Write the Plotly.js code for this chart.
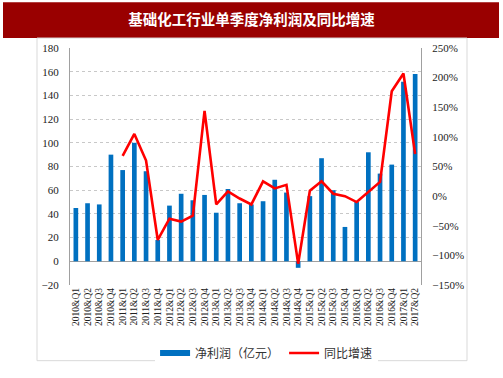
<!DOCTYPE html>
<html>
<head>
<meta charset="utf-8">
<script src="https://cdn.plot.ly/plotly-3.0.1.min.js"></script>
<style>html,body{margin:0;padding:0;background:#fff;}#chart{width:503px;height:378px;}</style>
</head>
<body>
<div id="chart"></div>
<script>
const quarters = ["2010&Q1","2010&Q2","2010&Q3","2010&Q4","2011&Q1","2011&Q2","2011&Q3","2011&Q4","2012&Q1","2012&Q2","2012&Q3","2012&Q4","2013&Q1","2013&Q2","2013&Q3","2013&Q4","2014&Q1","2014&Q2","2014&Q3","2014&Q4","2015&Q1","2015&Q2","2015&Q3","2015&Q4","2016&Q1","2016&Q2","2016&Q3","2016&Q4","2017&Q1","2017&Q2"];
const netProfit = [45, 49, 48, 90, 77, 100, 76, 18, 47, 57, 51.5, 56, 41, 61, 49, 48, 50.7, 68.8, 58, -5.5, 55, 87, 60, 29, 50, 92, 74, 81.6, 151.6, 158];
const yoyGrowth = [null, null, null, null, 68, 105, 60, -74, -38, -43, -33, 144, -14, 8, -4, -14, 25, 13, 19, -114, 9, 25, 4, 0, -10, 7, 24, 177, 207, 71];
const titleText = "基础化工行业单季度净利润及同比增速";
const seriesNames = ["净利润（亿元）", "同比增速"];

const W = 503, H = 378, L = 70, R = 421, T = 48, B = 286;
const px = x => (x - L) / (R - L);
const py = y => (B - y) / (B - T);

const traces = [
  {type: "bar", x: quarters, y: netProfit, name: seriesNames[0], marker: {color: "#0070C0"}, yaxis: "y", showlegend: false, legendgroup: "p"},
  {type: "scatter", mode: "lines", x: [null], y: [null], name: seriesNames[0], line: {color: "#0070C0", width: 6}, yaxis: "y", legendgroup: "p", hoverinfo: "skip"},
  {type: "scatter", mode: "lines", x: quarters, y: yoyGrowth, name: seriesNames[1], line: {color: "#FF0000", width: 2.6}, yaxis: "y2", connectgaps: false}
];

const tickFont = {family: "Liberation Serif, Times New Roman, serif", size: 11, color: "#222"};
const layout = {
  width: W, height: H,
  margin: {l: L, r: W - R, t: T, b: H - B, pad: 0},
  paper_bgcolor: "#fff", plot_bgcolor: "#fff",
  title: {text: "<b>" + titleText + "</b>", x: 0.5, xanchor: "center", xref: "container", y: 1 - 20 / H, yanchor: "middle", yref: "container", font: {family: "Noto Sans CJK SC", size: 14.5, color: "#fff"}},
  bargap: 0.6,
  showlegend: true,
  legend: {orientation: "h", x: 0.56, xanchor: "center", y: py(353), yanchor: "middle", font: {family: "Noto Sans CJK SC", size: 12, color: "#333"}, itemwidth: 30, tracegroupgap: 0, traceorder: "normal"},
  xaxis: {type: "category", range: [-0.5, 29.5], tickmode: "array", tickvals: quarters, ticktext: quarters, tickangle: -90, tickfont: {family: "Liberation Serif, Times New Roman, serif", size: 9.5, color: "#222"}, showgrid: false, showline: false, ticks: "", zeroline: false, automargin: false},
  yaxis: {range: [-20, 180], dtick: 20, tick0: 0, tickfont: tickFont, showgrid: true, gridcolor: "#C8C8C8", griddash: "dot", gridwidth: 1, zeroline: true, zerolinecolor: "#A0A0A0", zerolinewidth: 1.2, showline: true, linecolor: "#A0A0A0", linewidth: 1, ticks: "", ticklabelstandoff: 8, automargin: false},
  yaxis2: {overlaying: "y", side: "right", range: [-150, 250], dtick: 50, tick0: 0, ticksuffix: "%", tickfont: tickFont, showgrid: false, zeroline: false, showline: true, linecolor: "#A0A0A0", linewidth: 1, ticks: "", ticklabelstandoff: 8, automargin: false},
  shapes: [
    {type: "rect", xref: "paper", yref: "paper", x0: px(3), x1: px(499), y0: py(38), y1: py(2), fillcolor: "#990000", line: {width: 0}, layer: "below"},
    {type: "rect", xref: "paper", yref: "paper", x0: px(37), x1: px(467), y0: py(362), y1: py(38), fillcolor: "rgba(0,0,0,0)", line: {color: "#D9D9D9", width: 1}, layer: "below"}
  ]
};

Plotly.newPlot("chart", traces, layout, {displayModeBar: false, staticPlot: true});
</script>
</body>
</html>
